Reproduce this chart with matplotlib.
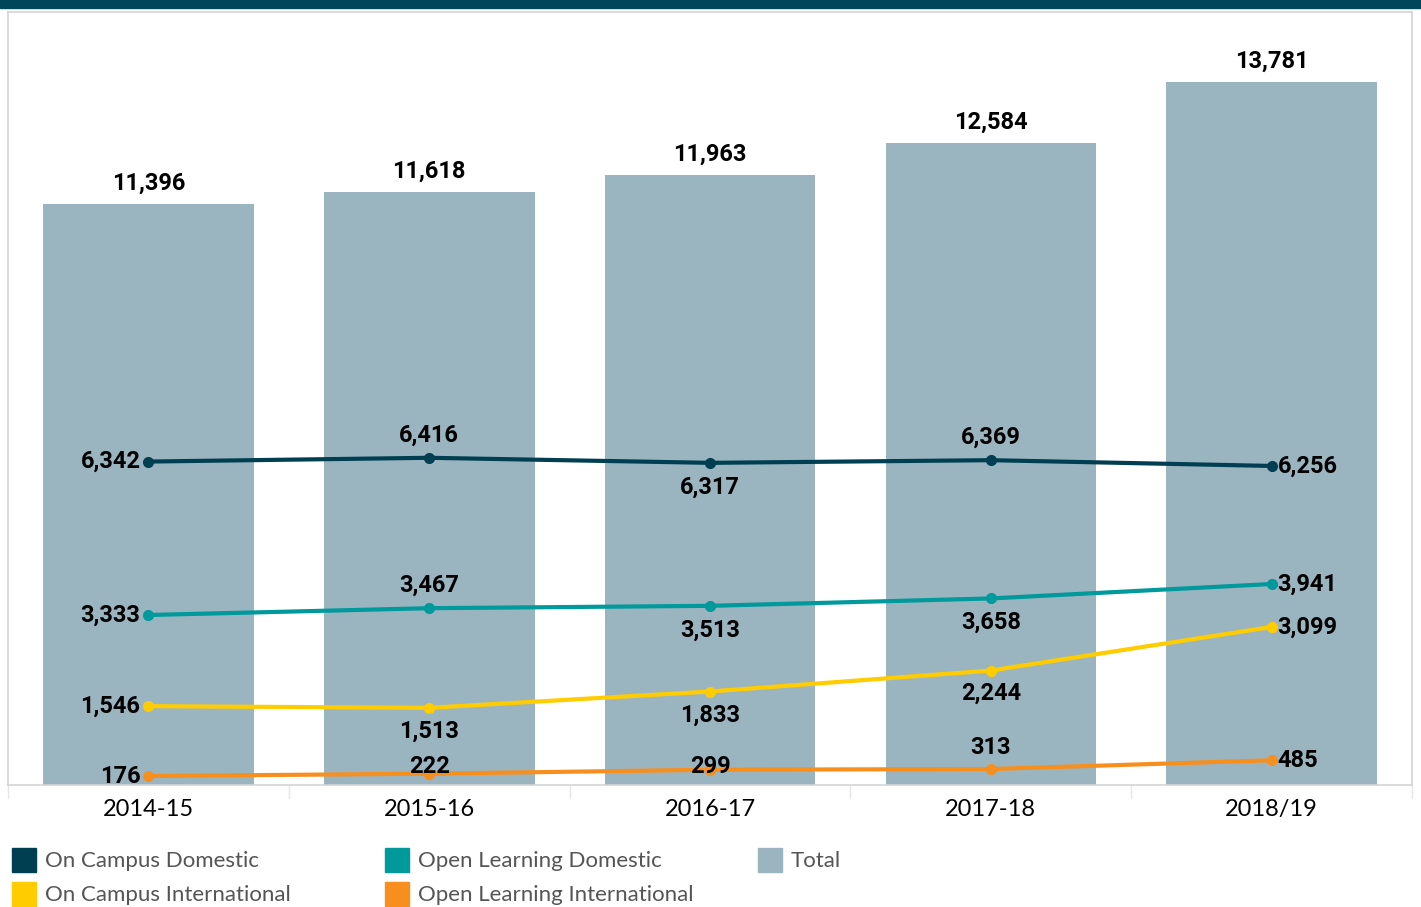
import matplotlib
matplotlib.use('Agg')
import matplotlib.pyplot as plt
from matplotlib.patches import Rectangle

years = ['2014-15', '2015-16', '2016-17', '2017-18', '2018/19']
total = [11396, 11618, 11963, 12584, 13781]
on_campus_domestic = [6342, 6416, 6317, 6369, 6256]
open_learning_domestic = [3333, 3467, 3513, 3658, 3941]
on_campus_international = [1546, 1513, 1833, 2244, 3099]
open_learning_international = [176, 222, 299, 313, 485]

# label placement per point (offset in px from the point)
series = [
    ('On Campus Domestic', on_campus_domestic, '#003F52', ['l', 23, -24, 23, 'r']),
    ('Open Learning Domestic', open_learning_domestic, '#00999C', ['l', 23, -24, -24, 'r']),
    ('On Campus International', on_campus_international, '#FFCC00', ['l', -23, -24, -23, 'r']),
    ('Open Learning International', open_learning_international, '#F78F1E', ['l', 7, 3, 22, 'r']),
]
bar_color = '#9BB5C0'

plt.rcParams['font.family'] = ['Lato', 'DejaVu Sans']
lab = dict(fontsize=17, fontweight='bold', family=['Roboto', 'DejaVu Sans'], color='black')

W, H = 1421, 907
fig = plt.figure(figsize=(W / 100, H / 100), dpi=100)
fig.patches.append(Rectangle((0, 1 - 8 / H), 1, 8 / H, transform=fig.transFigure,
                             color='#00465A', zorder=0))

ax = fig.add_axes([8 / W, (H - 785) / H, 1404 / W, 773 / H])
x = list(range(len(years)))
pt = 0.72  # px -> points at 100 dpi

ax.bar(x, total, width=0.75, color=bar_color, zorder=1)
for i, v in enumerate(total):
    ax.annotate(f'{v:,}', (i, v), xytext=(0, 21 * pt), textcoords='offset points',
                ha='center', va='center', **lab)

for name, vals, col, place in series:
    ax.plot(x, vals, color=col, lw=3, marker='o', ms=7, zorder=3, solid_capstyle='round')
    for i, v in enumerate(vals):
        p = place[i]
        if p == 'l':
            ax.annotate(f'{v:,}', (i, v), xytext=(-8 * pt, 0), textcoords='offset points',
                        ha='right', va='center', zorder=4, **lab)
        elif p == 'r':
            ax.annotate(f'{v:,}', (i, v), xytext=(6 * pt, 0), textcoords='offset points',
                        ha='left', va='center', zorder=4, **lab)
        else:
            ax.annotate(f'{v:,}', (i, v), xytext=(0, p * pt), textcoords='offset points',
                        ha='center', va='center', zorder=4, **lab)

ax.set_xlim(-0.5, 4.5)
ax.set_ylim(0, 15157)
ax.set_yticks([])
ax.set_xticks(x)
ax.set_xticklabels(years, fontsize=17)
ax.tick_params(axis='x', length=0, pad=10)
for s in ax.spines.values():
    s.set_color('#D4D4D4')
    s.set_linewidth(1.2)

# faint separators under the axis between categories
for i in range(len(years) + 1):
    ax.plot([i - 0.5, i - 0.5], [0, -250], color='#E6E6E6', lw=1, clip_on=False)

# legend: three columns, two rows
legend_items = dict((n, c) for n, _, c, _ in series)
legend_items['Total'] = bar_color
slots = [('On Campus Domestic', 12, 0), ('On Campus International', 12, 1),
         ('Open Learning Domestic', 385, 0), ('Open Learning International', 385, 1),
         ('Total', 758, 0)]
for name, x0, r in slots:
    y0 = 848 + r * 34
    fig.patches.append(Rectangle((x0 / W, 1 - (y0 + 24) / H), 24 / W, 24 / H,
                                 transform=fig.transFigure, color=legend_items[name]))
    fig.text((x0 + 33) / W, 1 - (y0 + 13) / H, name, fontsize=16, color='#555555',
             va='center', ha='left')

fig.savefig('out.png', dpi=100)
